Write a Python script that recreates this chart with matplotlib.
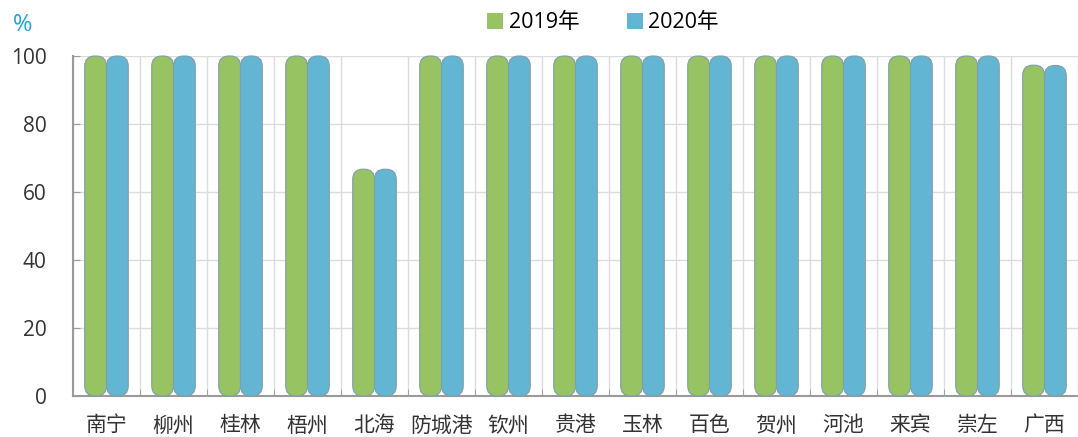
import matplotlib
matplotlib.use('Agg')
from matplotlib import pyplot as plt
from matplotlib.patches import FancyBboxPatch, Patch
import numpy as np

plt.rcParams['font.family'] = ['Open Sans', 'Noto Sans CJK SC', 'DejaVu Sans']

# data
cities = ['南宁', '柳州', '桂林', '梧州', '北海', '防城港', '钦州', '贵港',
          '玉林', '百色', '贺州', '河池', '来宾', '崇左', '广西']
y2019 = [100, 100, 100, 100, 66.7, 100, 100, 100, 100, 100, 100, 100, 100, 100, 97.3]
y2020 = [100, 100, 100, 100, 66.7, 100, 100, 100, 100, 100, 100, 100, 100, 100, 97.2]
yticks = [0, 20, 40, 60, 80, 100]

green = '#98c362'
blue = '#62b6d3'
edge = '#7f9eab'
grid_c = '#dcdcdc'
spine_c = '#9a9a9a'

fig = plt.figure(figsize=(10.78, 4.37), dpi=100)
ax = fig.add_axes([73/1078, 41/437, 1005/1078, 340/437])

x = np.arange(len(cities))
w = 0.325

def rounded(bars, color):
    # swap the plain rectangles for rounded ones
    for b in bars:
        bx, by = b.get_xy()
        bw, bh = b.get_width(), b.get_height()
        b.remove()
        p = FancyBboxPatch((bx, by), bw, bh,
                           boxstyle='round,pad=0,rounding_size=0.15',
                           mutation_aspect=20,
                           facecolor=color, edgecolor=edge, linewidth=0.8,
                           zorder=3, clip_on=False)
        ax.add_patch(p)

b1 = ax.bar(x - w/2, y2019, w, color=green, label='2019年')
b2 = ax.bar(x + w/2, y2020, w, color=blue, label='2020年')
rounded(b1, green)
rounded(b2, blue)

ax.set_xlim(-0.5, 14.39)
ax.set_ylim(0, 100)

ax.set_xticks(x)
ax.set_xticklabels(cities, fontsize=15, color='#333333')
ax.set_xticks(np.arange(-0.5, 15, 1), minor=True)
ax.tick_params(axis='x', which='major', length=0, pad=14)
ax.tick_params(axis='x', which='minor', length=5, direction='in', color=spine_c)

ax.set_yticks(yticks)
ax.set_yticklabels([str(v) for v in yticks], fontsize=15, color='#333333')
ax.tick_params(axis='y', length=5, direction='in', color=spine_c, pad=19)

ax.grid(axis='y', color=grid_c, linewidth=1, zorder=0)
ax.grid(axis='x', which='minor', color=grid_c, linewidth=1, zorder=0)
ax.set_axisbelow(True)

for s in ['top', 'right']:
    ax.spines[s].set_visible(False)
for s in ['left', 'bottom']:
    ax.spines[s].set_color(spine_c)
    ax.spines[s].set_linewidth(1.5)

fig.text(23/1078, 1 - 25/437, '%', color='#1aa3e8', fontsize=17,
         ha='center', va='center')

handles = [Patch(facecolor=green), Patch(facecolor=blue)]
fig.legend(handles, ['2019年', '2020年'], loc='center', ncol=2,
           bbox_to_anchor=(603/1078, 1 - 23/437), frameon=False,
           fontsize=15.5, handlelength=0.75, handleheight=0.75,
           handletextpad=0.25, columnspacing=2.2)

plt.savefig('out.png', dpi=100)
